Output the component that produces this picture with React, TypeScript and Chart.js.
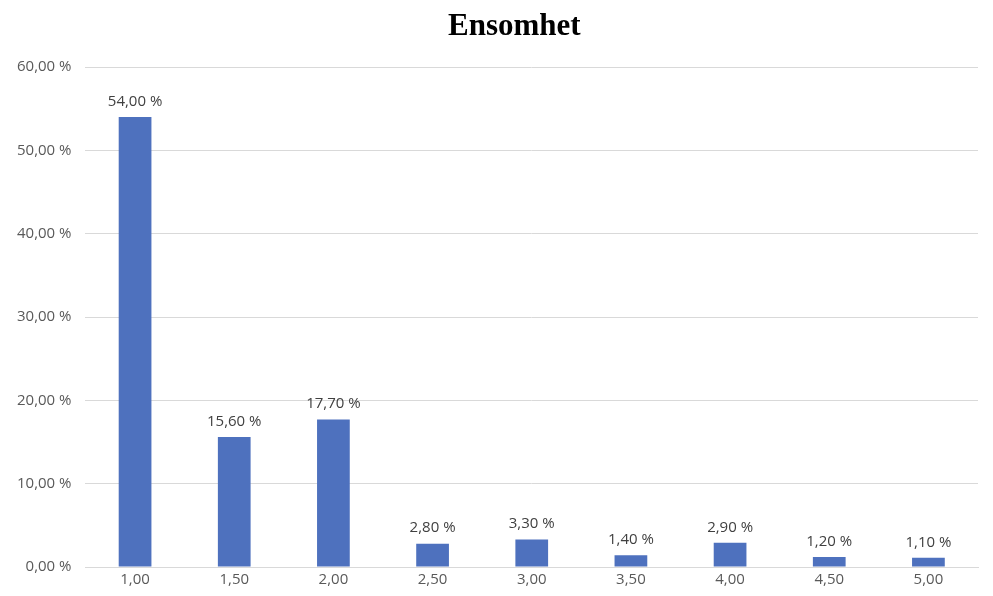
import React, { useEffect, useRef } from "react";
import { Chart, registerables } from "chart.js";

Chart.register(...registerables);

const titleText = "Ensomhet";
const categories = ["1,00", "1,50", "2,00", "2,50", "3,00", "3,50", "4,00", "4,50", "5,00"];
const values = [54.0, 15.6, 17.7, 2.8, 3.3, 1.4, 2.9, 1.2, 1.1];

const fmt = (v: number) => v.toFixed(2).replace(".", ",") + " %";
const FONT = "'Open Sans', 'Noto Sans', sans-serif";

const labelsPlugin = {
  id: "barLabels",
  afterDatasetsDraw(chart: any) {
    const ctx = chart.ctx;
    const meta = chart.getDatasetMeta(0);
    ctx.save();
    ctx.font = `15px ${FONT}`;
    ctx.fillStyle = "#404040";
    ctx.textAlign = "center";
    ctx.textBaseline = "bottom";
    meta.data.forEach((bar: any, i: number) => {
      ctx.fillText(fmt(values[i]), bar.x, bar.y - 8);
    });
    ctx.restore();
  },
};

const titlePlugin = {
  id: "customTitle",
  afterDraw(chart: any) {
    const ctx = chart.ctx;
    ctx.save();
    ctx.font = "bold 31px 'Liberation Serif', 'Times New Roman', serif";
    ctx.fillStyle = "#000000";
    ctx.textAlign = "center";
    ctx.textBaseline = "middle";
    ctx.fillText(titleText, chart.width * 0.518, 27);
    ctx.restore();
  },
};

export default function App() {
  const ref = useRef<HTMLCanvasElement | null>(null);
  useEffect(() => {
    document.body.style.margin = "0";
    if (!ref.current) return;
    const chart = new Chart(ref.current, {
      type: "bar",
      data: {
        labels: categories,
        datasets: [
          {
            data: values,
            backgroundColor: "#4E71BE",
            borderWidth: 0,
            categoryPercentage: 1,
            barPercentage: 0.33,
          },
        ],
      },
      options: {
        animation: false,
        responsive: false,
        maintainAspectRatio: false,
        layout: { padding: { top: 67, left: 3, right: 15, bottom: 3 } },
        plugins: {
          legend: { display: false },
          title: { display: false },
          tooltip: { enabled: false },
        },
        scales: {
          x: {
            grid: { display: false, drawTicks: false },
            border: { color: "#d9d9d9", width: 1 },
            ticks: { color: "#595959", font: { family: FONT, size: 15 }, padding: 4 },
          },
          y: {
            min: 0,
            max: 60,
            grid: { color: "#d9d9d9", drawTicks: false },
            border: { display: false },
            ticks: {
              stepSize: 10,
              color: "#595959",
              font: { family: FONT, size: 15 },
              padding: 14,
              callback: (v: any) => fmt(Number(v)),
            },
          },
        },
      },
      plugins: [labelsPlugin, titlePlugin],
    });
    return () => chart.destroy();
  }, []);
  return (
    <div style={{ width: 993, height: 596 }}>
      <canvas ref={ref} width={993} height={596} style={{ display: "block" }} />
    </div>
  );
}
